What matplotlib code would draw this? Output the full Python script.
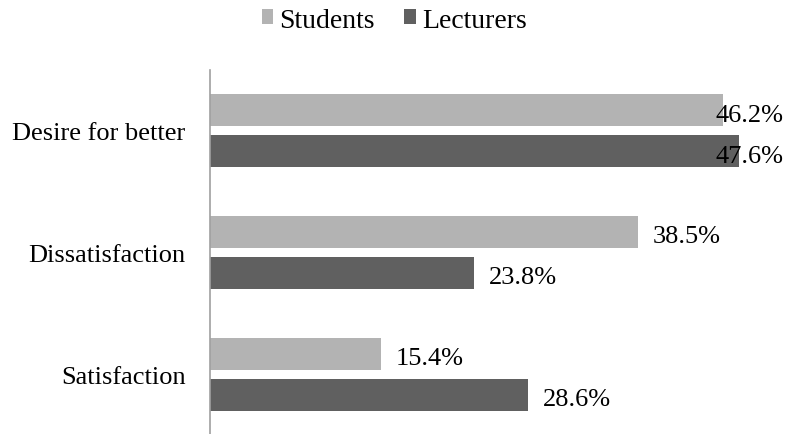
import matplotlib
matplotlib.use("Agg")
import matplotlib.pyplot as plt
import numpy as np

# Data
categories = ["Desire for better", "Dissatisfaction", "Satisfaction"]
students = [46.2, 38.5, 15.4]
lecturers = [47.6, 23.8, 28.6]
series_names = ["Students", "Lecturers"]

plt.rcParams['font.family'] = ['Liberation Serif', 'DejaVu Serif']
plt.rcParams['font.size'] = 19

colors = ['#b3b3b3', '#606060']

fig = plt.figure(figsize=(7.88, 4.35), dpi=100)
ax = fig.add_axes([0.2661, -0.0023, 0.7276, 0.8398])

y = np.arange(len(categories))
h = 0.263
off = 0.168
b1 = ax.barh(y - off, students, height=h, color=colors[0], label=series_names[0])
b2 = ax.barh(y + off, lecturers, height=h, color=colors[1], label=series_names[1])

ax.set_xlim(0, 51.56)
ax.set_ylim(2.5, -0.5)
ax.set_yticks(y)
ax.set_yticklabels(categories)
ax.tick_params(axis='y', length=0, pad=17.5)
ax.set_xticks([])
for s in ['top', 'right', 'bottom']:
    ax.spines[s].set_visible(False)
ax.spines['left'].set_color('#a0a0a0')
ax.spines['left'].set_linewidth(1.2)

# Data labels
labels = []
for bars, vals in [(b1, students), (b2, lecturers)]:
    for bar, v in zip(bars, vals):
        t = ax.annotate(f"{v:.1f}%", xy=(v, bar.get_y() + bar.get_height() / 2),
                        xytext=(15, -2), textcoords='offset pixels',
                        ha='left', va='center_baseline', annotation_clip=False)
        labels.append(t)

# Legend
fig.legend(handles=[b1, b2], labels=series_names, loc='center',
           bbox_to_anchor=(0.5, 1 - 21 / 435), ncol=2, frameon=False,
           fontsize=20, handlelength=0.42, handleheight=0.42, handletextpad=0.22,
           columnspacing=1.05, borderpad=0)

# keep labels inside the plot area (like Excel does)
fig.canvas.draw()
r = fig.canvas.get_renderer()
limit = ax.bbox.x1
for t in labels:
    bb = t.get_window_extent(r)
    if bb.x1 > limit:
        t.xyann = (t.xyann[0] - (bb.x1 - limit), t.xyann[1])

fig.savefig("out.png", dpi=100)
